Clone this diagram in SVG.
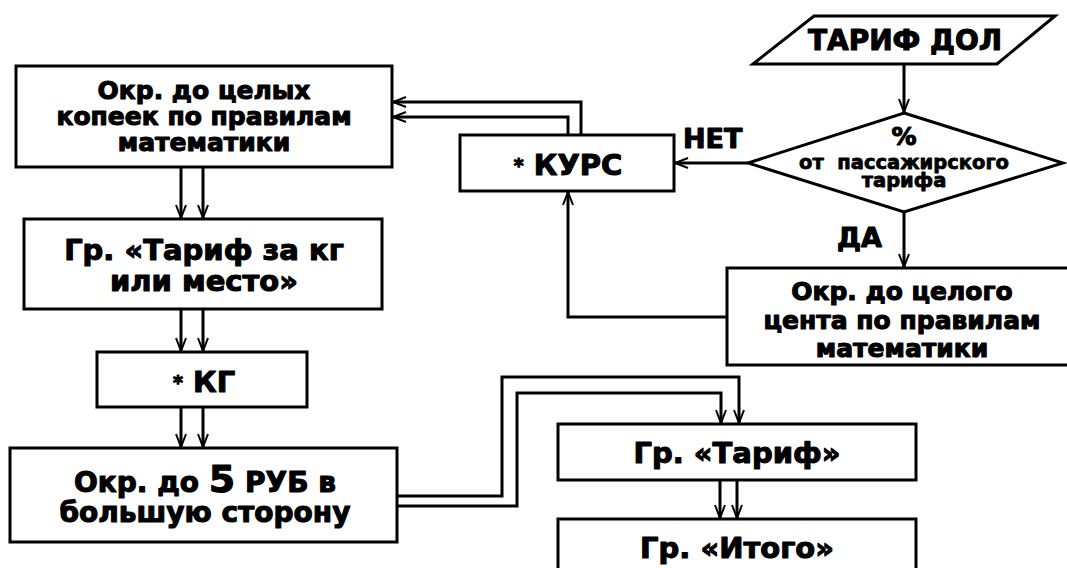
<svg xmlns="http://www.w3.org/2000/svg" width="1067" height="568" viewBox="0 0 1067 568">
  <style>
    .box { fill: #fff; stroke: #000; stroke-width: 3; }
    .wire { fill: none; stroke: #000; stroke-width: 3; marker-end: url(#arrow); }
    text { font-family: "DejaVu Sans", Verdana, sans-serif; font-weight: bold; fill: #000; text-anchor: middle; stroke: #000; stroke-width: 1.1; stroke-linejoin: round; }
    .t25 { font-size: 25px; }
    .t28 { font-size: 28px; }
    .t29 { font-size: 29px; }
    .lbl { font-size: 27px; text-anchor: start; }
    .small { font-size: 19.5px; stroke-width: 0.8; }
  </style>
  <defs>
    <marker id="arrow" markerUnits="userSpaceOnUse" markerWidth="16" markerHeight="14" viewBox="-14 -7 16 14" refX="0" refY="0" orient="auto">
      <path d="M-13,-5 L0,0 L-13,5" fill="none" stroke="#000" stroke-width="2"/>
    </marker>
  </defs>

  <!-- connectors -->
  <g id="connectors">
    <path class="wire" d="M904,64 V112"/>
    <path class="wire" d="M748,163 H675"/>
    <path class="wire" d="M904,212 V267"/>
    <path class="wire" d="M727,317 H568 V192"/>
    <path class="wire" d="M581,135 V102 H393"/>
    <path class="wire" d="M568,135 V117 H393"/>
    <path class="wire" d="M181,167 V218"/>
    <path class="wire" d="M203,167 V218"/>
    <path class="wire" d="M181,309 V351"/>
    <path class="wire" d="M203,309 V351"/>
    <path class="wire" d="M181,407 V447"/>
    <path class="wire" d="M203,407 V447"/>
    <path class="wire" d="M397,496 H502 V377 H739 V423"/>
    <path class="wire" d="M397,506 H517 V393 H721 V423"/>
    <path class="wire" d="M720,480 V518"/>
    <path class="wire" d="M737,480 V518"/>
  </g>

  <g id="input-tariff-usd">
    <polygon class="box" points="814,16 1055,16 997,64 753,64"/>
    <text class="t28" x="905" y="50">ТАРИФ ДОЛ</text>
  </g>

  <g id="decision-percent">
    <polygon class="box" points="904,113 1063,163 904,212 748,163"/>
    <text x="904" y="145" style="font-size:25px">%</text>
    <text class="small" x="904" y="169" xml:space="preserve">от  пассажирского</text>
    <text class="small" x="904" y="187">тарифа</text>
  </g>

  <g id="label-no">
    <text class="lbl" x="683" y="148">НЕТ</text>
  </g>
  <g id="label-yes">
    <text class="lbl" x="837" y="247">ДА</text>
  </g>

  <g id="round-cent">
    <rect class="box" x="727" y="268" width="345" height="97"/>
    <text class="t25" x="902" y="300">Окр. до целого</text>
    <text class="t25" x="902" y="329">цента по правилам</text>
    <text class="t25" x="902" y="357">математики</text>
  </g>

  <g id="rate">
    <rect class="box" x="460" y="135" width="214" height="56"/>
    <text class="t29" x="568" y="175"><tspan dy="-3" style="font-size:19px">*</tspan><tspan dy="3"> КУРС</tspan></text>
  </g>

  <g id="round-kopeck">
    <rect class="box" x="16" y="66" width="376" height="101"/>
    <text class="t25" x="204" y="99">Окр. до целых</text>
    <text class="t25" x="204" y="125">копеек по правилам</text>
    <text class="t25" x="204" y="151">математики</text>
  </g>

  <g id="tariff-per-kg">
    <rect class="box" x="24" y="219" width="358" height="90"/>
    <text class="t29" x="204" y="260">Гр. «Тариф за кг</text>
    <text class="t29" x="204" y="291">или место»</text>
  </g>

  <g id="times-kg">
    <rect class="box" x="97" y="352" width="210" height="55"/>
    <text class="t29" x="204" y="392"><tspan dy="-3" style="font-size:19px">*</tspan><tspan dy="3"> КГ</tspan></text>
  </g>

  <g id="round-5-rub">
    <rect class="box" x="10" y="448" width="387" height="94"/>
    <text class="t28" x="205" y="492">Окр. до <tspan style="font-size:38px">5</tspan> РУБ в</text>
    <text class="t28" x="205" y="522">большую сторону</text>
  </g>

  <g id="tariff-total">
    <rect class="box" x="558" y="424" width="358" height="56"/>
    <text class="t29" x="737" y="463">Гр. «Тариф»</text>
  </g>

  <g id="grand-total">
    <rect class="box" x="558" y="519" width="358" height="60"/>
    <text class="t29" x="737" y="558">Гр. «Итого»</text>
  </g>
</svg>
